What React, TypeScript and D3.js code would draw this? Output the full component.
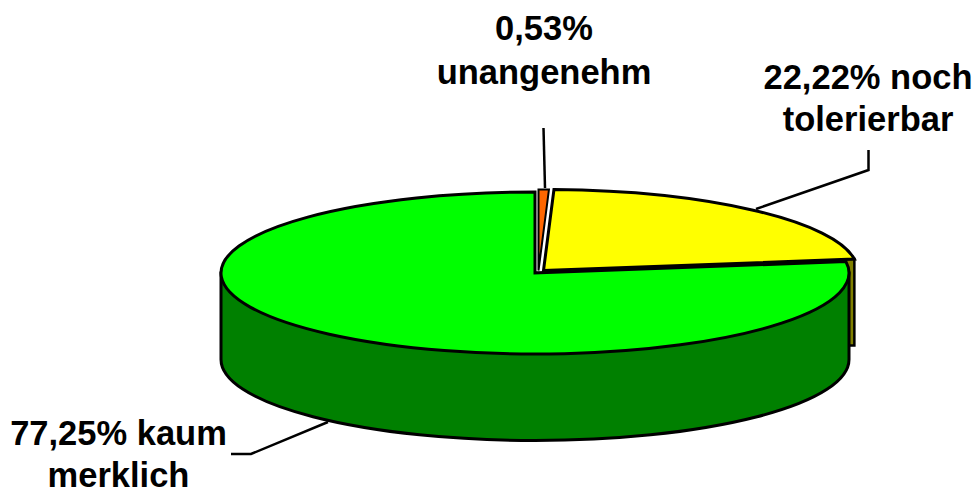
import React from "react";
import * as d3 from "d3";

const sliceNames = ["unangenehm", "noch tolerierbar", "kaum merklich"];
const sliceValues = [0.53, 22.22, 77.25];
const topColors = ["#ff6600", "#ffff00", "#00ff00"];
const wallColors = ["#803300", "#808000", "#008000"];
const labelLines = [["0,53%", "unangenehm"], ["22,22% noch", "tolerierbar"], ["77,25% kaum", "merklich"]];
const sliceStrokes = [2, 3, 3];

const W = 977, H = 493;
const RX = 314, RY = 81, DEPTH = 86.5;
const centers = [[538.5, 270.5], [543.5, 270.5], [535, 273]];
const labelPos = [[544, 40, 83.5], [868, 89, 130.5], [118.5, 445, 487]];
const leaders = [
  "M545,188L543.5,128",
  "M756,209L868.5,170V150",
  "M328,422L251,454H231",
];

export default function App() {
  const pie = d3.pie<number>().sort(null).value((d) => d);
  const arcs = pie(sliceValues);
  const arc = d3.arc<d3.PieArcDatum<number>>().innerRadius(0).outerRadius(RX);
  const [gx, gy] = centers[2];
  const greenWall = `M${gx - RX},${gy}V${gy + DEPTH}A${RX},${RY} 0 0 0 ${gx + RX},${gy + DEPTH}V${gy}Z`;
  const [yx, yy] = centers[1];
  const yEnd = arcs[1].endAngle;
  const tipX = yx + RX * Math.sin(yEnd);
  const tipY = yy - RY * Math.cos(yEnd);
  const yellowWall = `M${tipX},${tipY}V${tipY + DEPTH}H${gx + RX - 4}V${tipY}Z`;
  const drawOrder = [2, 1, 0];
  return (
    <svg width={W} height={H} style={{ position: "absolute", left: 0, top: 0, background: "#fff" }}>
      <path d={yellowWall} fill={wallColors[1]} stroke="#000" strokeWidth={2.5} />
      <path d={greenWall} fill={wallColors[2]} stroke="#000" strokeWidth={3} />
      {drawOrder.map((i) => (
        <path
          key={sliceNames[i]}
          d={arc(arcs[i]) as string}
          transform={`translate(${centers[i][0]},${centers[i][1]}) scale(1,${RY / RX})`}
          fill={topColors[i]}
          stroke="#000"
          strokeWidth={sliceStrokes[i]}
          strokeLinejoin="miter"
          vectorEffect="non-scaling-stroke"
        />
      ))}
      {leaders.map((d) => (
        <path key={d} d={d} fill="none" stroke="#000" strokeWidth={2.5} />
      ))}
      {labelLines.map((lines, i) => (
        <text
          key={lines[0]}
          textAnchor="middle"
          fontFamily="'Liberation Sans', Arial, sans-serif"
          fontWeight="bold"
          fontSize={34.5}
          fill="#000"
        >
          {lines.map((t, j) => (
            <tspan key={t} x={labelPos[i][0]} y={labelPos[i][j + 1]}>{t}</tspan>
          ))}
        </text>
      ))}
    </svg>
  );
}
